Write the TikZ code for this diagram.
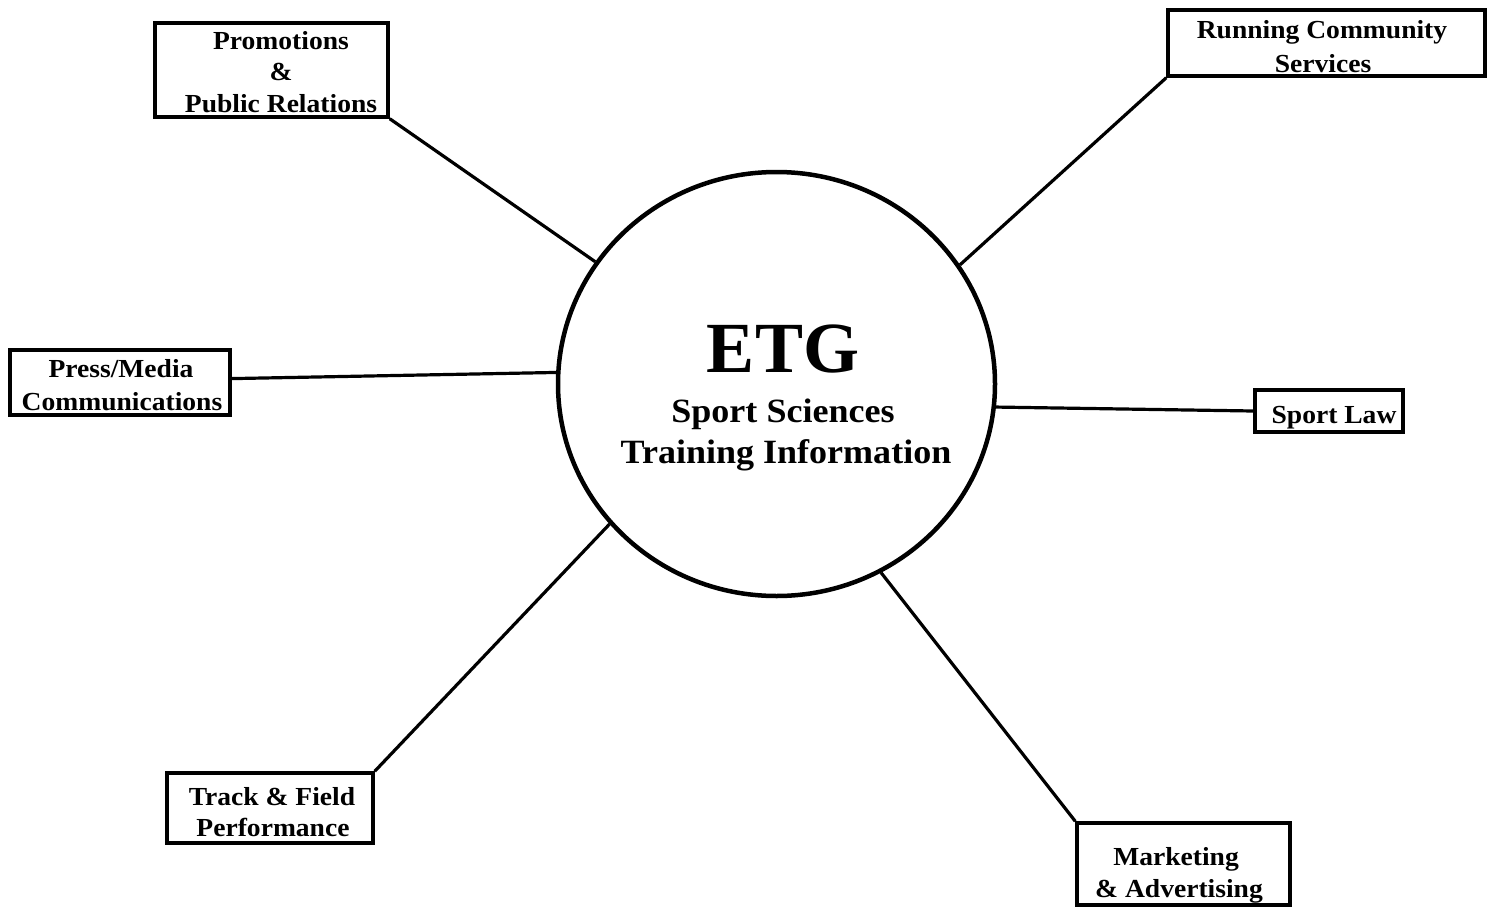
\documentclass[tikz,border=0pt]{standalone}
\usepackage{fontspec}
\setmainfont{Liberation Serif}
\usetikzlibrary{shapes.geometric}
\tikzset{
 boxnode/.style={draw, line width=3.5pt, rectangle, inner sep=0pt},
 btxt/.style={anchor=base, inner sep=0pt, font=\bfseries\fontsize{26}{31}\selectfont},
 ctxt/.style={anchor=base, inner sep=0pt, font=\bfseries\fontsize{34}{41}\selectfont},
 link/.style={line width=3.2pt},
}
\newcommand{\stretchtxt}[1]{\scalebox{1.06}[1]{#1}}
\begin{document}
\begin{tikzpicture}[x=1pt,y=-1pt]
\useasboundingbox (0,0) rectangle (1490,910);
\fill[white] (0,0) rectangle (1490,910);
\node[draw, ellipse, line width=4.5pt, minimum width=437pt, minimum height=424pt, inner sep=0pt] (etg) at (776.5,384) {};
% boxes
\node[boxnode, minimum width=233pt, minimum height=94pt] (promo) at (271.5,70) {};
\node[boxnode, minimum width=317pt, minimum height=66pt] (run) at (1326.5,43) {};
\node[boxnode, minimum width=220pt, minimum height=65pt] (press) at (120,382.5) {};
\node[boxnode, minimum width=148pt, minimum height=42pt] (law) at (1329,411) {};
\node[boxnode, minimum width=206pt, minimum height=70pt] (track) at (270,808) {};
\node[boxnode, minimum width=213pt, minimum height=82pt] (market) at (1183.5,864) {};
% box texts
\node[btxt] (p1) at (281,49) {\stretchtxt{Promotions}};
\node[btxt] (p2) at (281,80) {\stretchtxt{\&}};
\node[btxt] (p3) at (281,112) {\stretchtxt{Public Relations}};
\node[btxt] (r1) at (1322,38) {\stretchtxt{Running Community}};
\node[btxt] (r2) at (1323,72) {\stretchtxt{Services}};
\node[btxt] (m1) at (121,377) {\stretchtxt{Press/Media}};
\node[btxt] (m2) at (122,410) {\stretchtxt{Communications}};
\node[btxt] (l1) at (1334,423) {\stretchtxt{Sport Law}};
\node[btxt] (t1) at (272,805) {\stretchtxt{Track \& Field}};
\node[btxt] (t2) at (273,836) {\stretchtxt{Performance}};
\node[btxt] (k1) at (1176,865) {\stretchtxt{Marketing}};
\node[btxt] (k2) at (1179,897) {\stretchtxt{\& Advertising}};
% center texts
\node[anchor=base, inner sep=0pt, font=\bfseries\fontsize{72}{80}\selectfont] (c1) at (783,372) {ETG};
\node[ctxt] (c2) at (783,422) {\stretchtxt{Sport Sciences}};
\node[ctxt] (c3) at (786,463) {\stretchtxt{Training Information}};
% connectors
\draw[link] (promo.south east) -- (etg.146.9);
\draw[link] (run.south west) -- (etg.33);
\draw[link] (press.2.3) -- (etg.177.4);
\draw[link] (law.west) -- (etg.354);
\draw[link] (track.north east) -- (etg.220.7);
\draw[link] (market.north west) -- (etg.299.6);
\end{tikzpicture}
\end{document}
